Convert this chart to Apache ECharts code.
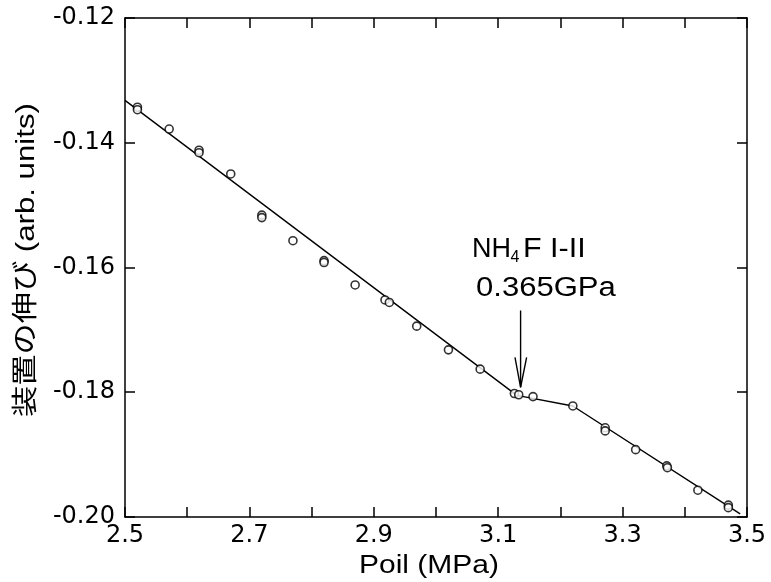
<!DOCTYPE html>
<html><head><meta charset="utf-8">
<script src="https://cdn.jsdelivr.net/npm/echarts@6/dist/echarts.min.js"></script>
<style>html,body{margin:0;padding:0;background:#fff}#c{width:771px;height:582px}</style>
</head><body><div id="c"></div>
<script>
// measured points
const pointX = [2.520,2.520,2.571,2.619,2.619,2.670,2.720,2.720,2.770,2.820,2.820,2.870,2.918,2.925,2.969,3.020,3.071,3.126,3.133,3.156,3.220,3.272,3.272,3.321,3.371,3.372,3.421,3.470,3.470];
const pointY = [-0.1343,-0.1347,-0.1378,-0.1412,-0.1416,-0.1450,-0.1516,-0.1520,-0.1557,-0.1589,-0.1592,-0.1628,-0.1652,-0.1656,-0.1694,-0.1732,-0.1763,-0.1802,-0.1804,-0.1807,-0.1822,-0.1857,-0.1862,-0.1892,-0.1918,-0.1921,-0.1957,-0.1981,-0.1985];
// fitted broken line
const fitX = [2.5, 3.13, 3.22, 3.489];
const fitY = [-0.1332, -0.1805, -0.1822, -0.1995];
// arrow marking the transition
const arrowShaftX = [3.136, 3.136];
const arrowShaftY = [-0.1669, -0.1792];
const arrowHeadX = [3.127, 3.136, 3.1457];
const arrowHeadY = [-0.1744, -0.1792, -0.1744];
// axis ticks
const xTickLabels = ['2.5','2.7','2.9','3.1','3.3','3.5'];
const yTickLabels = ['-0.20','-0.18','-0.16','-0.14','-0.12'];

const FONT = "'Liberation Sans', Arial, 'Noto Sans CJK JP', sans-serif";
const TICKFONT = "'DejaVu Sans', 'Liberation Sans', sans-serif";
const zip = (a, b) => a.map((v, i) => [v, b[i]]);
const axisLineStyle = {color: '#000', width: 1.5};

const chart = echarts.init(document.getElementById('c'), null, {renderer: 'canvas'});
const baseX = {type: 'value', min: 2.5, max: 3.5, interval: 0.1, splitLine: {show: false},
  axisLine: {show: true, onZero: false, lineStyle: axisLineStyle},
  axisTick: {show: true, inside: true, length: 10, lineStyle: {color: '#000', width: 1.5}}};
const baseY = {type: 'value', min: -0.20, max: -0.12, interval: 0.02, splitLine: {show: false},
  axisLine: {show: true, onZero: false, lineStyle: axisLineStyle},
  axisTick: {show: true, inside: true, length: 10, lineStyle: {color: '#000', width: 1.5}}};

chart.setOption({
  animation: false,
  backgroundColor: '#fff',
  grid: {left: 125, top: 18, width: 622, height: 499, containLabel: false},
  xAxis: [
    Object.assign({}, baseX, {position: 'bottom',
      axisLabel: {show: true, margin: 7, color: '#000', fontSize: 24, fontFamily: TICKFONT,
        showMinLabel: true, showMaxLabel: true,
        formatter: v => { const s = v.toFixed(1); return xTickLabels.indexOf(s) >= 0 ? s : ''; }}}),
    Object.assign({}, baseX, {position: 'top', axisLabel: {show: false}})
  ],
  yAxis: [
    Object.assign({}, baseY, {position: 'left',
      axisLabel: {show: true, margin: 10, color: '#000', fontSize: 24, fontFamily: TICKFONT,
        showMinLabel: true, showMaxLabel: true,
        formatter: v => { const s = v.toFixed(2); return yTickLabels.indexOf(s) >= 0 ? s : ''; }}}),
    Object.assign({}, baseY, {position: 'right', axisLabel: {show: false}})
  ],
  series: [
    {type: 'line', data: zip(fitX, fitY), showSymbol: false, symbol: 'none',
      lineStyle: {color: '#000', width: 1.4}, z: 2},
    {type: 'line', data: zip(arrowShaftX, arrowShaftY), symbol: 'none',
      lineStyle: {color: '#000', width: 1.4}, z: 2},
    {type: 'line', data: zip(arrowHeadX, arrowHeadY), symbol: 'none',
      lineStyle: {color: '#000', width: 1.4}, z: 2},
    {type: 'scatter', data: zip(pointX, pointY), symbol: 'circle', symbolSize: 8,
      itemStyle: {color: '#fff', borderColor: '#000', borderWidth: 1.6}, z: 3}
  ],
  graphic: [
    {type: 'text', x: 27, y: 260, rotation: Math.PI / 2, scaleX: 1.2,
      style: {text: '装置の伸び (arb. units)', font: '26px ' + FONT, align: 'center', verticalAlign: 'middle', fill: '#000'}},
    {type: 'text', x: 429, y: 566, scaleX: 1.2,
      style: {text: 'Poil (MPa)', font: '25px ' + FONT, align: 'center', verticalAlign: 'middle', fill: '#000'}},
    {type: 'text', x: 472, y: 250,
      style: {text: 'NH', font: '27px ' + FONT, align: 'left', verticalAlign: 'middle', fill: '#000'}},
    {type: 'text', x: 510.5, y: 258,
      style: {text: '4', font: '16px ' + FONT, align: 'left', verticalAlign: 'middle', fill: '#000'}},
    {type: 'text', x: 523, y: 250, scaleX: 1.13,
      style: {text: 'F I-II', font: '27px ' + FONT, align: 'left', verticalAlign: 'middle', fill: '#000'}},
    {type: 'text', x: 476, y: 288.5, scaleX: 1.15,
      style: {text: '0.365GPa', font: '27px ' + FONT, align: 'left', verticalAlign: 'middle', fill: '#000'}}
  ]
});
</script></body></html>
